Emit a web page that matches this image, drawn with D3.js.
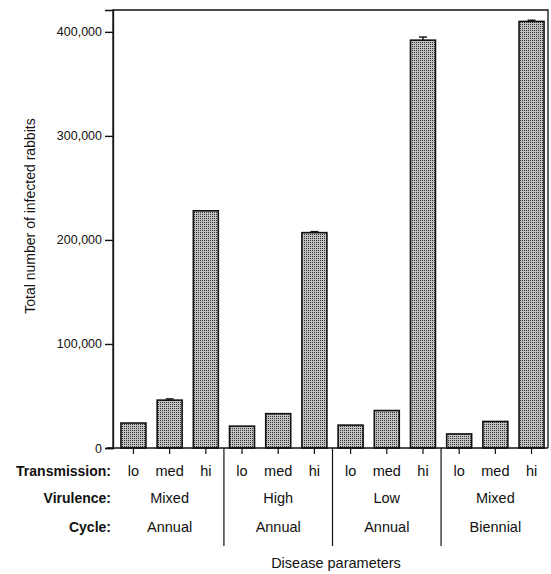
<!DOCTYPE html>
<html><head><meta charset="utf-8">
<script src="https://cdn.jsdelivr.net/npm/d3@7"></script>
<style>body{margin:0;background:#fff}</style>
</head><body>
<svg id="c" width="551" height="574"></svg>
<script>
const transmission = ["lo","med","hi","lo","med","hi","lo","med","hi","lo","med","hi"];
const virulence = ["Mixed","High","Low","Mixed"];
const cycle = ["Annual","Annual","Annual","Biennial"];
const values = [24000,46000,228000,21000,33000,207000,22000,36000,392000,13500,25500,410000];
const errors = [0,1200,0,0,0,1000,0,0,3000,0,0,1200];
const yTicks = [0,100000,200000,300000,400000];

const svg = d3.select("#c");
const font = "Liberation Sans, Arial, Helvetica, sans-serif";
const L=113, R=548, T=10, B=448;

const defs = svg.append("defs");
const pat = defs.append("pattern").attr("id","dots").attr("width",2).attr("height",2).attr("patternUnits","userSpaceOnUse");
pat.append("rect").attr("width",2).attr("height",2).attr("fill","#c2c2c2");
pat.append("rect").attr("width",1).attr("height",1).attr("fill","#333");

const idx = d3.range(values.length);
const x = d3.scaleBand().domain(idx).range([L, 552]).paddingInner(0.31).paddingOuter(0.22);
const y = d3.scaleLinear().domain([0,421000]).range([B,T]);

// bars
svg.selectAll("rect.bar").data(idx).enter().append("rect")
  .attr("x", i=>x(i)).attr("width", x.bandwidth())
  .attr("y", i=>y(values[i])).attr("height", i=>B-y(values[i]))
  .attr("fill","url(#dots)").attr("stroke","#111").attr("stroke-width",1.6);

// error bars
idx.filter(i=>errors[i]>0).forEach(i=>{
  const cx = x(i)+x.bandwidth()/2;
  const g = svg.append("g").attr("stroke","#111").attr("stroke-width",1.4);
  g.append("line").attr("x1",cx).attr("x2",cx).attr("y1",y(values[i]+errors[i])).attr("y2",y(values[i]));
  g.append("line").attr("x1",cx-4).attr("x2",cx+4).attr("y1",y(values[i]+errors[i])).attr("y2",y(values[i]+errors[i]));
});

// frame
svg.append("path").attr("d",`M${L},${B}V${T}H${R}V${B}`).attr("fill","none").attr("stroke","#111").attr("stroke-width",1.3);

// y axis
const ya = svg.append("g").attr("transform",`translate(${L},0)`)
  .call(d3.axisLeft(y).tickValues(yTicks).tickSize(8).tickPadding(3).tickFormat(d3.format(",")));
ya.select(".domain").attr("stroke","#111").attr("stroke-width",1.3);
ya.selectAll(".tick line").attr("stroke","#111").attr("stroke-width",1.4);
ya.selectAll("text").attr("font-family",font).attr("font-size",12.5).attr("fill","#111");

// x axis
const xa = svg.append("g").attr("transform",`translate(0,${B})`)
  .call(d3.axisBottom(x).tickSize(6).tickFormat(""));
xa.select(".domain").remove();
svg.append("line").attr("x1",L-6).attr("x2",R).attr("y1",B).attr("y2",B).attr("stroke","#111").attr("stroke-width",1.4);
xa.selectAll(".tick line").attr("stroke","#111").attr("stroke-width",1.2);

// transmission labels
svg.selectAll("text.tr").data(idx).enter().append("text")
  .attr("x", i=>x(i)+x.bandwidth()/2).attr("y",476)
  .attr("text-anchor","middle").attr("font-family",font).attr("font-size",14.5).attr("fill","#111")
  .text(i=>transmission[i]);

// group dividers & labels
const gi = d3.range(virulence.length);
gi.slice(1).forEach(g=>{
  const xm = (x(g*3-1)+x.bandwidth() + x(g*3))/2;
  svg.append("line").attr("x1",xm).attr("x2",xm).attr("y1",B).attr("y2",546).attr("stroke","#111").attr("stroke-width",1.2);
});
gi.forEach(g=>{
  const cx = x(g*3+1)+x.bandwidth()/2;
  svg.append("text").attr("x",cx).attr("y",503).attr("text-anchor","middle").attr("font-family",font).attr("font-size",14.5).attr("fill","#111").text(virulence[g]);
  svg.append("text").attr("x",cx).attr("y",532).attr("text-anchor","middle").attr("font-family",font).attr("font-size",14.5).attr("fill","#111").text(cycle[g]);
});

// row titles
[["Transmission:",476],["Virulence:",503],["Cycle:",532]].forEach(([t,yy])=>{
  svg.append("text").attr("x",111).attr("y",yy).attr("text-anchor","end").attr("font-family",font)
    .attr("font-size",14).attr("font-weight","bold").attr("fill","#111").text(t);
});

// axis titles
svg.append("text").attr("transform","translate(35,216) rotate(-90)").attr("text-anchor","middle")
  .attr("font-family",font).attr("font-size",14).attr("fill","#111").text("Total number of infected rabbits");
svg.append("text").attr("x",336).attr("y",568).attr("text-anchor","middle")
  .attr("font-family",font).attr("font-size",14.5).attr("fill","#111").text("Disease parameters");
</script>
</body></html>
